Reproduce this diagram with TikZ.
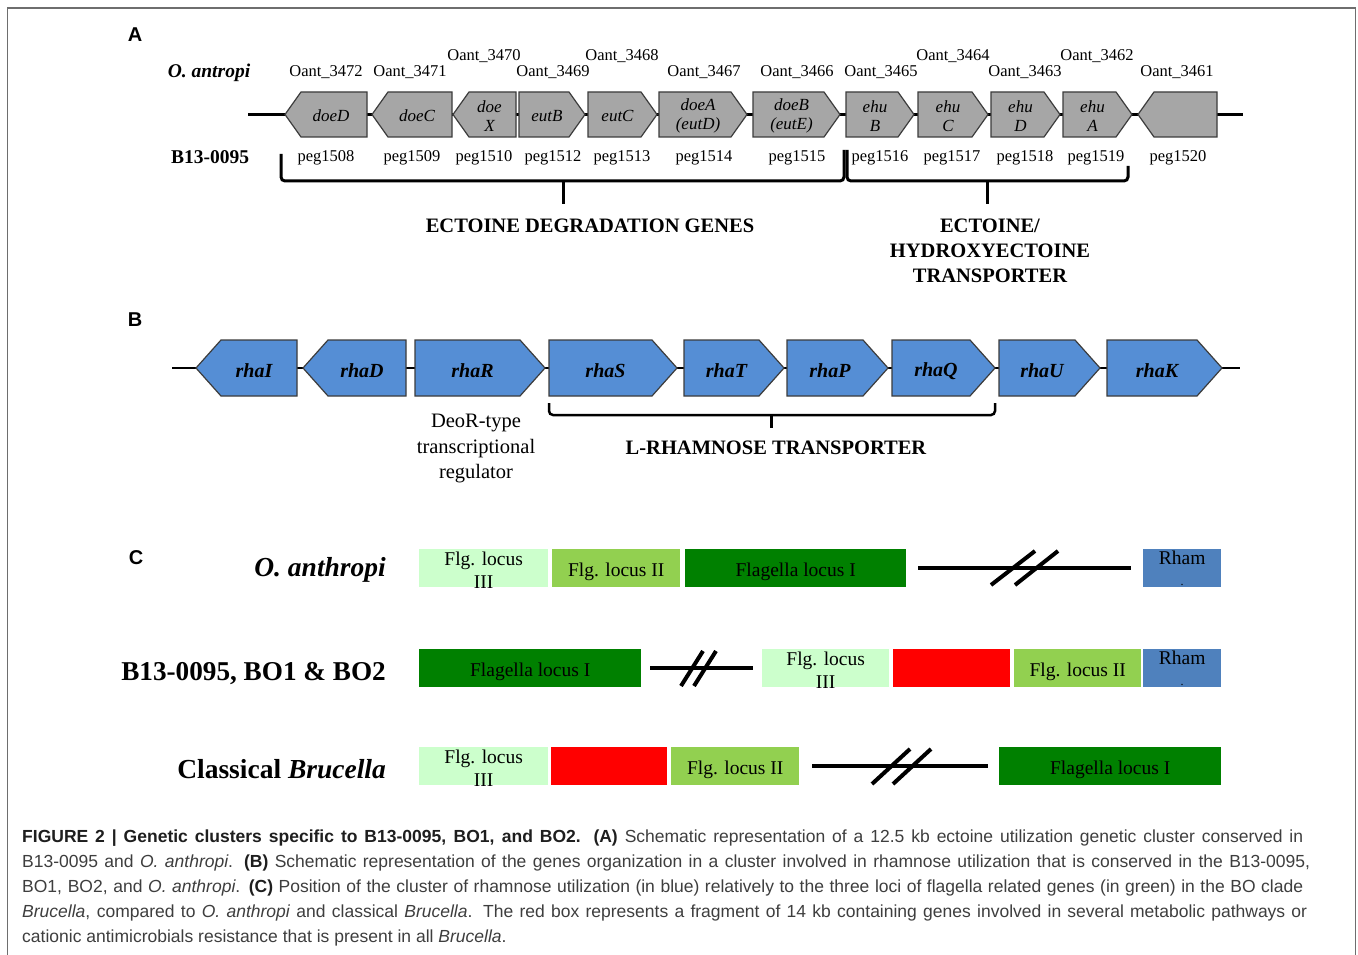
\documentclass[tikz,border=0pt]{standalone}
\usepackage{fontspec}
\setmainfont{Liberation Serif}
\newfontfamily\capfont{Liberation Sans}
\newfontfamily\panelfont{Liberation Sans}
\definecolor{framegray}{RGB}{110,110,110}
\definecolor{genegray}{RGB}{166,166,166}
\definecolor{geneedge}{RGB}{60,60,60}
\definecolor{geneblue}{RGB}{85,142,213}
\definecolor{lightgreen}{RGB}{204,255,204}
\definecolor{midgreen}{RGB}{146,208,80}
\definecolor{darkgreen}{RGB}{0,128,0}
\definecolor{rhamblue}{RGB}{79,129,189}
\definecolor{fragred}{RGB}{255,0,0}
\definecolor{captext}{RGB}{62,62,62}
\definecolor{capbold}{RGB}{30,30,30}
\newcommand\gtop{92}
\newcommand\gbot{137}
\newcommand\gmid{114.5}
\newcommand\gtip{16}
\newcommand\gshift{3}
\newcommand\gtextdy{1.5}
% right-pointing gene: name, x1, x2, label
\newcommand\geneR[4]{%
  \draw[gene] (#2,\gtop) -- ({#3-\gtip},\gtop) -- (#3,\gmid) -- ({#3-\gtip},\gbot) -- (#2,\gbot) -- cycle;
  \node[genetext] (#1) at ({(#2+#3-\gtip)/2+\gshift},{\gmid+\gtextdy}) {#4};}
% left-pointing gene: name, x1, x2, label
\newcommand\geneL[4]{%
  \draw[gene] (#2,\gmid) -- ({#2+\gtip},\gtop) -- (#3,\gtop) -- (#3,\gbot) -- ({#2+\gtip},\gbot) -- cycle;
  \node[genetext] (#1) at ({(#2+\gtip+#3)/2-\gshift},{\gmid+\gtextdy}) {#4};}
\begin{document}
\begin{tikzpicture}[x=1pt,y=-1pt,
  panel/.style={font=\panelfont\bfseries\fontsize{20}{24}\selectfont},
  oant/.style={font=\fontsize{16.5}{19}\selectfont, inner sep=0pt},
  peg/.style={font=\fontsize{16.5}{19}\selectfont, inner sep=0pt},
  backbone/.style={line width=3pt, black},
  bracepath/.style={line width=3pt, black, rounded corners=4pt},
  bigbold/.style={font=\bfseries\fontsize{20.5}{25}\selectfont, align=center, inner sep=0pt},
  plain/.style={font=\fontsize{20.5}{25.5}\selectfont, align=center, inner sep=0pt},
  rowlabel/.style={font=\bfseries\fontsize{27.5}{32}\selectfont, anchor=base east, inner sep=0pt},
  cbox/.style={draw=none, minimum height=38pt, inner sep=0pt, anchor=north west},
  boxtext/.style={font=\fontsize{19.5}{23}\selectfont, align=center, inner sep=0pt},
  breakline/.style={line width=4pt, black},
  slash/.style={line width=4pt, black},
  capline/.style={font=\capfont\fontsize{17.5}{21}\selectfont, text=captext, anchor=base west, inner sep=0pt}
]
\useasboundingbox (0,0) rectangle (1358,955);
\fill[white] (0,0) rectangle (1358,955);
\draw[framegray, line width=1.5pt] (7.5,8) rectangle (1355.5,975);

% ================= Panel A =================
\node[panel] (lA) at (135,35) {A};
\node[font=\bfseries\itshape\fontsize{19.5}{23}\selectfont, inner sep=0pt] (oantA) at (209,73) {O. antropi};
\node[font=\bfseries\fontsize{19.5}{23}\selectfont, inner sep=0pt] (b13A) at (210,157) {B13-0095};

\coordinate (Astart) at (248,114.5);
\coordinate (Aend) at (1243,114.5);
\draw[backbone] (Astart) -- (Aend);

\begin{scope}[gene/.style={fill=genegray, draw=geneedge, line width=1.2pt},
  genetext/.style={font=\itshape\fontsize{17}{19}\selectfont, align=center, inner sep=0pt}]
\geneL{doeD}{285}{367}{doeD}
\geneL{doeC}{372}{452}{doeC}
\geneL{doeX}{453}{516}{doe\\X}
\geneR{eutB}{519}{585}{eutB}
\geneR{eutC}{588}{657}{eutC}
\geneR{doeA}{659}{747}{doeA\\(eutD)}
\geneR{doeB}{753}{840}{doeB\\(eutE)}
\geneR{ehuB}{846}{914}{ehu\\B}
\geneR{ehuC}{918}{988}{ehu\\C}
\geneR{ehuD}{991}{1060}{ehu\\D}
\geneR{ehuA}{1063}{1132}{ehu\\A}
\geneL{g1520}{1138}{1217}{}
\end{scope}

% Oant labels
\node[oant] (o3472) at (326,72) {Oant\_3472};
\node[oant] (o3471) at (410,72) {Oant\_3471};
\node[oant] (o3470) at (484,56) {Oant\_3470};
\node[oant] (o3469) at (553,72) {Oant\_3469};
\node[oant] (o3468) at (622,56) {Oant\_3468};
\node[oant] (o3467) at (704,72) {Oant\_3467};
\node[oant] (o3466) at (797,72) {Oant\_3466};
\node[oant] (o3465) at (881,72) {Oant\_3465};
\node[oant] (o3464) at (953,56) {Oant\_3464};
\node[oant] (o3463) at (1025,72) {Oant\_3463};
\node[oant] (o3462) at (1097,56) {Oant\_3462};
\node[oant] (o3461) at (1177,72) {Oant\_3461};

% peg labels
\node[peg] (p1508) at (326,157.5) {peg1508};
\node[peg] (p1509) at (412,157.5) {peg1509};
\node[peg] (p1510) at (484,157.5) {peg1510};
\node[peg] (p1512) at (553,157.5) {peg1512};
\node[peg] (p1513) at (622,157.5) {peg1513};
\node[peg] (p1514) at (704,157.5) {peg1514};
\node[peg] (p1515) at (797,157.5) {peg1515};
\node[peg] (p1516) at (880,157.5) {peg1516};
\node[peg] (p1517) at (952,157.5) {peg1517};
\node[peg] (p1518) at (1025,157.5) {peg1518};
\node[peg] (p1519) at (1096,157.5) {peg1519};
\node[peg] (p1520) at (1178,157.5) {peg1520};

% braces
\coordinate (b1l) at (281,154);
\coordinate (b1m) at (563,181);
\coordinate (b1t) at (563,204);
\coordinate (b1r) at (844,150);
\draw[bracepath] (b1l) |- (b1m) -| (b1r);
\draw[line width=3pt] (b1m) -- (b1t);
\coordinate (b2l) at (847,150);
\coordinate (b2m) at (987,181);
\coordinate (b2t) at (987,204);
\coordinate (b2r) at (1128,166);
\draw[bracepath] (b2l) |- (b2m) -| (b2r);
\draw[line width=3pt] (b2m) -- (b2t);

\node[bigbold] (ectdeg) at (590,226) {ECTOINE DEGRADATION GENES};
\node[bigbold, anchor=north] (ecttr) at (990,219) {ECTOINE/\\HYDROXYECTOINE\\TRANSPORTER};

% ================= Panel B =================
\node[panel] (lB) at (135,320) {B};
\coordinate (Bstart) at (172,368);
\coordinate (Bend) at (1240,368);
\draw[line width=2.5pt] (Bstart) -- (Bend);

\begin{scope}[gene/.style={fill=geneblue, draw=geneedge, line width=1.2pt},
  genetext/.style={font=\bfseries\itshape\fontsize{20}{24}\selectfont, inner sep=0pt}]
\renewcommand\gtop{340}\renewcommand\gbot{396}\renewcommand\gmid{368}\renewcommand\gtip{25}
\renewcommand\gshift{5}\renewcommand\gtextdy{3}
\geneL{rhaI}{196}{297}{rhaI}
\geneL{rhaD}{303}{406}{rhaD}
\geneR{rhaR}{415}{545}{rhaR}
\geneR{rhaS}{549}{677}{rhaS}
\geneR{rhaT}{684}{784}{rhaT}
\geneR{rhaP}{787}{888}{rhaP}
\geneR{rhaQ}{892}{995}{rhaQ}
\geneR{rhaU}{999}{1100}{rhaU}
\geneR{rhaK}{1107}{1222}{rhaK}
\end{scope}

\node[plain, anchor=north] (deor) at (476,414) {DeoR-type\\transcriptional\\regulator};

\coordinate (b3l) at (549,403);
\coordinate (b3m) at (771,415);
\coordinate (b3t) at (771,428);
\coordinate (b3r) at (995,403);
\draw[bracepath, line width=2.5pt] (b3l) |- (b3m) -| (b3r);
\draw[line width=3pt] (b3m) -- (b3t);
\node[bigbold] (rhamtr) at (776,448) {L-RHAMNOSE TRANSPORTER};

% ================= Panel C =================
\node[panel] (lC) at (136,558) {C};
\node[rowlabel] (r1) at (386,576) {\itshape O. anthropi};
\node[rowlabel, font=\bfseries\fontsize{27.2}{32}\selectfont] (r2) at (386,680) {B13-0095, BO1 \& BO2};
\node[rowlabel] (r3) at (386,778) {Classical \textit{Brucella}};

% row 1
\node[cbox, fill=lightgreen, minimum width=129pt] (c1a) at (419,549) {};
\node[boxtext] at ([yshift=-2pt]c1a.center) {Flg. locus\\III};
\node[cbox, fill=midgreen, minimum width=128pt] (c1b) at (552,549) {};
\node[boxtext] at ([yshift=-4pt]c1b.center) {Flg. locus II};
\node[cbox, fill=darkgreen, minimum width=221pt] (c1c) at (685,549) {};
\node[boxtext] at ([yshift=-4pt]c1c.center) {Flagella locus I};
\coordinate (k1a) at (918,568);
\coordinate (k1b) at (1131,568);
\draw[breakline] (k1a) -- (k1b);
\coordinate (s1a) at (991,585); \coordinate (s1b) at (1035,551);
\coordinate (s1c) at (1015,585); \coordinate (s1d) at (1058,551);
\draw[slash] (s1a) -- (s1b);
\draw[slash] (s1c) -- (s1d);
\node[cbox, fill=rhamblue, minimum width=78pt] (c1r) at (1143,549) {};
\node[boxtext, anchor=north] at ([yshift=-2pt]c1r.north) {Rham};
\node[font=\fontsize{12}{12}\selectfont, inner sep=0pt] at (1182,585) {.};

% row 2
\node[cbox, fill=darkgreen, minimum width=222pt] (c2a) at (419,649) {};
\node[boxtext] at ([yshift=-4pt]c2a.center) {Flagella locus I};
\coordinate (k2a) at (650,668);
\coordinate (k2b) at (753,668);
\draw[breakline] (k2a) -- (k2b);
\coordinate (s2a) at (681,686); \coordinate (s2b) at (703,651);
\coordinate (s2c) at (694,686); \coordinate (s2d) at (716,651);
\draw[slash] (s2a) -- (s2b);
\draw[slash] (s2c) -- (s2d);
\node[cbox, fill=lightgreen, minimum width=127pt] (c2b) at (762,649) {};
\node[boxtext] at ([yshift=-2pt]c2b.center) {Flg. locus\\III};
\node[cbox, fill=fragred, minimum width=117pt] (c2c) at (893,649) {};
\node[cbox, fill=midgreen, minimum width=127pt] (c2d) at (1014,649) {};
\node[boxtext] at ([yshift=-4pt]c2d.center) {Flg. locus II};
\node[cbox, fill=rhamblue, minimum width=78pt] (c2e) at (1143,649) {};
\node[boxtext, anchor=north] at ([yshift=-2pt]c2e.north) {Rham};
\node[font=\fontsize{12}{12}\selectfont, inner sep=0pt] at (1182,685) {.};

% row 3
\node[cbox, fill=lightgreen, minimum width=129pt] (c3a) at (419,747) {};
\node[boxtext] at ([yshift=-2pt]c3a.center) {Flg. locus\\III};
\node[cbox, fill=fragred, minimum width=116pt] (c3b) at (551,747) {};
\node[cbox, fill=midgreen, minimum width=128pt] (c3c) at (671,747) {};
\node[boxtext] at ([yshift=-4pt]c3c.center) {Flg. locus II};
\coordinate (k3a) at (812,766);
\coordinate (k3b) at (988,766);
\draw[breakline] (k3a) -- (k3b);
\coordinate (s3a) at (872,784); \coordinate (s3b) at (910,749);
\coordinate (s3c) at (893,784); \coordinate (s3d) at (931,749);
\draw[slash] (s3a) -- (s3b);
\draw[slash] (s3c) -- (s3d);
\node[cbox, fill=darkgreen, minimum width=222pt] (c3d) at (999,747) {};
\node[boxtext] at ([yshift=-4pt]c3d.center) {Flagella locus I};

% ================= Caption =================
\node[capline] (cap1) at (22,842) {\hbox to 1281pt{\textcolor{capbold}{\bfseries FIGURE 2 | Genetic clusters specific to B13-0095, BO1, and BO2. (A)} Schematic representation of a 12.5 kb ectoine utilization genetic cluster conserved in}};
\node[capline] (cap2) at (22,867) {\hbox to 1288pt{B13-0095 and \textit{O. anthropi}. \textcolor{capbold}{\bfseries (B)} Schematic representation of the genes organization in a cluster involved in rhamnose utilization that is conserved in the B13-0095,}};
\node[capline] (cap3) at (22,892) {\hbox to 1281pt{BO1, BO2, and \textit{O. anthropi}. \textcolor{capbold}{\bfseries (C)} Position of the cluster of rhamnose utilization (in blue) relatively to the three loci of flagella related genes (in green) in the BO clade}};
\node[capline] (cap4) at (22,917) {\hbox to 1285pt{\textit{Brucella}, compared to \textit{O. anthropi} and classical \textit{Brucella}. The red box represents a fragment of 14 kb containing genes involved in several metabolic pathways or}};
\node[capline] (cap5) at (22,942) {cationic antimicrobials resistance that is present in all \textit{Brucella}.};
\end{tikzpicture}
\end{document}
